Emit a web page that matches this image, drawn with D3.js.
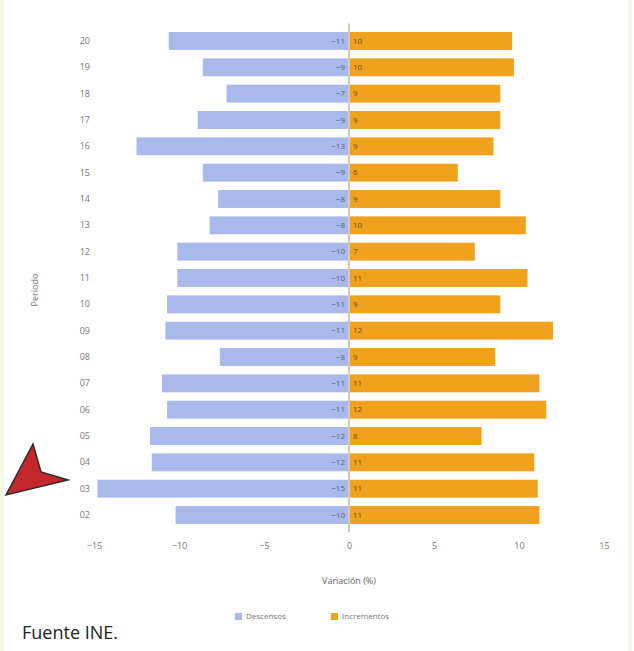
<!DOCTYPE html>
<html>
<head>
<meta charset="utf-8">
<script src="https://cdn.jsdelivr.net/npm/d3@7"></script>
<style>
  body { margin: 0; background: #fff; }
  #chart { width: 634px; height: 651px; position: relative; }
  #chart svg { display: block; }
</style>
</head>
<body>
<div id="chart"></div>
<script>
// categories, top to bottom
var periodos = ["20", "19", "18", "17", "16", "15", "14", "13", "12", "11",
                "10", "09", "08", "07", "06", "05", "04", "03", "02"];
// left series (negative) and right series (positive)
var descensos = [-10.6, -8.6, -7.2, -8.9, -12.5, -8.6, -7.7, -8.2, -10.1, -10.1,
                 -10.7, -10.8, -7.6, -11.0, -10.7, -11.7, -11.6, -14.8, -10.2];
var incrementos = [9.6, 9.7, 8.9, 8.9, 8.5, 6.4, 8.9, 10.4, 7.4, 10.5,
                   8.9, 12.0, 8.6, 11.2, 11.6, 7.8, 10.9, 11.1, 11.2];
var xTicks = [-15, -10, -5, 0, 5, 10, 15];
var series = ["Descensos", "Incrementos"];

function DrawBars() {
    var width = 634, height = 651;
    var colors = { blue: "#aab9ec", orange: "#f0a21e" };

    var svg = d3.select("#chart")
        .append("svg")
        .attr("width", width)
        .attr("height", height);

    // faint frame at the sides
    svg.append("rect").attr("x", 0).attr("y", 0).attr("width", 4).attr("height", height).style("fill", "#f3f9e4");
    svg.append("rect").attr("x", 628).attr("y", 0).attr("width", 4).attr("height", height).style("fill", "#f3f9e4");

    var x = d3.scaleLinear()
        .domain([-15, 15])
        .range([94, 604]);

    var y = d3.scaleBand()
        .domain(periodos)
        .range([23.6, 532.4])
        .padding(0.32);

    var rows = periodos.map(function (p, i) {
        return { key: p, neg: descensos[i], pos: incrementos[i] };
    });

    // left bars
    svg.selectAll(".neg")
        .data(rows)
        .enter()
        .append("rect")
        .attr("x", function (d) { return x(d.neg); })
        .attr("y", function (d) { return y(d.key); })
        .attr("width", function (d) { return x(0) - x(d.neg); })
        .attr("height", y.bandwidth())
        .style("fill", colors.blue);

    // right bars
    svg.selectAll(".pos")
        .data(rows)
        .enter()
        .append("rect")
        .attr("x", x(0))
        .attr("y", function (d) { return y(d.key); })
        .attr("width", function (d) { return x(d.pos) - x(0); })
        .attr("height", y.bandwidth())
        .style("fill", colors.orange);

    // zero line
    svg.append("line")
        .attr("x1", x(0)).attr("x2", x(0))
        .attr("y1", y.range()[0]).attr("y2", y.range()[1])
        .style("stroke", "#d6c8b2")
        .style("stroke-width", 2);

    // value labels next to the zero line
    var fmt = d3.format(".0f");
    svg.selectAll(".lneg")
        .data(rows)
        .enter()
        .append("text")
        .attr("x", x(0) - 4)
        .attr("y", function (d) { return y(d.key) + y.bandwidth() / 2; })
        .attr("dy", "0.35em")
        .style("text-anchor", "end")
        .style("font", "8px 'Open Sans', sans-serif")
        .style("fill", "#5a6070")
        .text(function (d) { return fmt(d.neg); });
    svg.selectAll(".lpos")
        .data(rows)
        .enter()
        .append("text")
        .attr("x", x(0) + 4)
        .attr("y", function (d) { return y(d.key) + y.bandwidth() / 2; })
        .attr("dy", "0.35em")
        .style("text-anchor", "start")
        .style("font", "8px 'Open Sans', sans-serif")
        .style("fill", "#6a4a10")
        .text(function (d) { return fmt(d.pos); });

    // Y axis
    var yAxis = svg.append("g")
        .attr("transform", "translate(92,0)")
        .call(d3.axisLeft(y).tickSize(0).tickPadding(2));
    yAxis.select(".domain").remove();
    yAxis.selectAll("text")
        .style("font", "9px 'Open Sans', sans-serif")
        .style("fill", "#777");

    // X axis
    var xAxis = svg.append("g")
        .attr("transform", "translate(0,540)")
        .call(d3.axisBottom(x).tickValues(xTicks).tickSize(0).tickPadding(3));
    xAxis.select(".domain").remove();
    xAxis.selectAll("text")
        .style("font", "9px 'Open Sans', sans-serif")
        .style("fill", "#777");

    // axis titles
    svg.append("text")
        .attr("x", x(0))
        .attr("y", 584)
        .style("text-anchor", "middle")
        .style("font", "9px 'Open Sans', sans-serif")
        .style("fill", "#666")
        .text("Variación (%)");
    svg.append("text")
        .attr("transform", "translate(38,290) rotate(-90)")
        .style("text-anchor", "middle")
        .style("font", "9px 'Open Sans', sans-serif")
        .style("fill", "#777")
        .text("Periodo");

    // legend
    var legend = svg.selectAll(".legend")
        .data(series)
        .enter()
        .append("g")
        .attr("transform", function (d, i) { return "translate(" + (i === 0 ? 235 : 331) + ",617)"; });
    legend.append("rect")
        .attr("x", 0).attr("y", -4)
        .attr("width", 7).attr("height", 7)
        .style("fill", function (d, i) { return i === 0 ? colors.blue : colors.orange; });
    legend.append("text")
        .attr("x", 11)
        .attr("dy", "0.3em")
        .style("font", "8px 'Open Sans', sans-serif")
        .style("fill", "#777")
        .text(function (d) { return d; });

    // source note
    svg.append("text")
        .attr("x", 22)
        .attr("y", 639)
        .style("font", "18px 'Open Sans', sans-serif")
        .style("fill", "#222")
        .text("Fuente INE.");

    // red pointer marker
    svg.append("path")
        .attr("d", "M6,495 L33,444 L41,472 L68,480 Z")
        .style("fill", "#c4282b")
        .style("stroke", "#2a2a2a")
        .style("stroke-width", 1.5)
        .style("stroke-linejoin", "miter");
}

DrawBars();
</script>
</body>
</html>
